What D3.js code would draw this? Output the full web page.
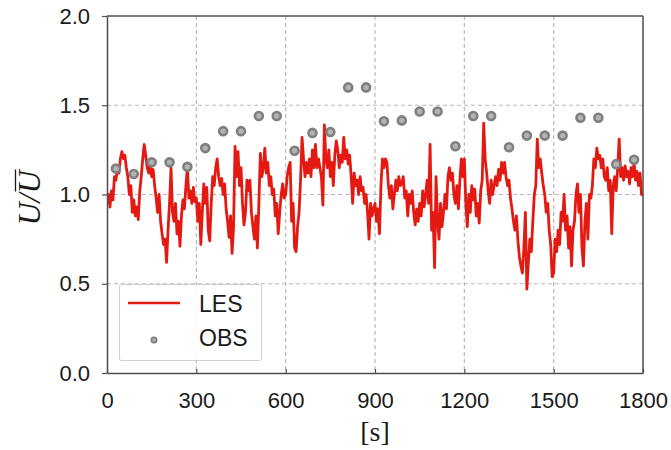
<!DOCTYPE html>
<html>
<head>
<meta charset="utf-8">
<script src="https://cdn.jsdelivr.net/npm/d3@7"></script>
<style>
  html, body { margin: 0; padding: 0; background: #fff; }
  svg { display: block; }
</style>
</head>
<body>
<svg id="chart" width="671" height="450"></svg>
<script>
// ---- data ----
const xTicks = [0, 300, 600, 900, 1200, 1500, 1800];
const yTicks = [0.0, 0.5, 1.0, 1.5, 2.0];
const lesStart = 0;   // s
const lesStep = 5;    // s
const lesValues = [
  0.95,1.0,0.93,1.02,0.97,1.1,1.08,1.15,1.12,1.2,
  1.24,1.2,1.22,1.15,1.1,1.0,1.05,0.9,0.97,0.88,
  0.93,0.86,1.02,1.1,1.2,1.28,1.22,1.15,1.12,1.18,
  1.1,1.14,1.05,0.98,0.9,1.0,0.85,0.78,0.72,0.75,
  0.62,0.8,0.95,1.15,0.9,0.85,0.95,0.78,0.85,0.71,
  0.88,0.97,0.92,1.05,1.15,0.98,1.02,0.95,1.04,0.96,
  0.98,0.85,0.95,0.72,0.9,1.06,0.95,1.04,0.8,0.74,
  0.95,1.1,1.05,1.15,1.2,1.1,1.05,1.09,1.0,1.06,
  0.92,0.85,0.76,0.88,0.67,0.82,1.27,1.1,1.24,1.05,
  1.15,0.95,0.83,0.9,1.08,1.02,1.08,0.9,0.82,0.75,
  0.88,0.7,0.95,1.23,1.1,1.15,1.26,1.12,1.18,1.05,
  1.1,1.0,1.03,0.88,0.95,0.78,0.9,1.0,1.06,0.98,
  1.0,1.1,1.15,1.18,0.85,0.95,0.7,0.68,0.82,0.9,
  1.08,1.32,1.2,1.1,1.18,1.12,1.2,1.1,1.25,1.15,
  1.28,1.15,1.2,1.15,1.1,0.94,1.39,1.2,1.15,1.25,
  1.1,1.18,1.05,1.22,1.3,1.25,1.15,1.22,1.18,1.32,
  1.2,1.25,1.17,1.22,1.1,0.95,1.12,1.05,1.08,1.0,
  1.1,1.02,1.04,0.95,1.0,0.9,0.75,0.95,0.88,0.92,
  0.95,0.85,0.92,0.78,1.05,1.2,1.15,1.2,1.18,1.05,
  0.98,1.05,0.92,1.0,1.08,1.02,1.1,1.05,1.06,1.1,
  0.98,1.02,0.88,1.0,0.95,1.02,0.9,0.83,0.92,0.85,
  0.95,0.88,1.02,0.93,1.0,1.08,0.95,1.28,0.8,0.9,
  0.59,1.1,0.85,0.75,0.95,0.82,0.9,1.0,0.92,1.1,
  1.15,1.08,1.12,1.0,0.95,1.05,0.92,1.08,1.2,1.1,
  1.2,0.95,0.82,1.0,0.9,1.05,0.97,1.03,0.88,0.95,
  0.84,1.02,1.08,1.4,1.2,1.12,1.02,0.95,1.08,1.0,
  1.05,1.1,1.05,1.14,1.08,1.18,1.12,1.18,1.1,1.05,
  1.08,0.98,0.92,0.85,0.8,0.88,0.74,0.65,0.6,0.56,
  0.7,0.9,0.47,0.62,0.75,0.68,0.85,1.0,1.05,1.31,
  1.15,1.2,1.12,1.05,1.0,0.9,0.95,0.8,0.72,0.54,
  0.56,0.75,0.68,0.8,0.72,0.9,0.85,1.0,0.8,0.88,
  0.7,0.82,0.6,0.8,0.85,1.0,1.06,0.9,1.0,0.7,
  0.6,0.85,0.95,0.75,1.0,0.98,1.05,1.2,1.15,1.26,
  1.2,1.22,1.15,1.2,1.1,1.08,1.15,1.02,1.08,0.78,
  1.05,1.1,1.02,1.15,1.31,1.1,1.15,1.08,1.16,1.1,
  1.13,1.06,1.15,1.1,1.18,1.08,1.13,1.05,1.12,1.0,
  1.0
];
const obsTime = [30,90,150,210,270,330,390,450,510,570,630,690,750,810,870,
                 930,990,1050,1110,1170,1230,1290,1350,1410,1470,1530,1590,1650,1710,1770];
const obsValues = [1.145,1.115,1.18,1.18,1.155,1.26,1.355,1.355,1.44,1.44,
                   1.245,1.345,1.35,1.6,1.6,1.41,1.415,1.465,1.465,1.27,
                   1.44,1.44,1.265,1.33,1.33,1.33,1.43,1.43,1.17,1.195];
const seriesNames = ["LES", "OBS"];

// ---- layout ----
const svg = d3.select("#chart");
const L = 107, R = 643, T = 16, B = 373;
const x = d3.scaleLinear().domain([0, 1800]).range([L, R]);
const y = d3.scaleLinear().domain([0, 2]).range([B, T]);
const axisColor = "#4d4d4d";
const gridColor = "#b8b8b8";
const tickFont = "'Liberation Sans', Arial, sans-serif";

svg.append("defs").append("clipPath").attr("id", "clip")
  .append("rect").attr("x", L).attr("y", T).attr("width", R - L).attr("height", B - T);

// grid
const grid = svg.append("g");
grid.selectAll("line.gx").data(xTicks.filter(d => d > 0 && d < 1800)).join("line")
  .attr("x1", d => x(d)).attr("x2", d => x(d)).attr("y1", T).attr("y2", B)
  .attr("stroke", gridColor).attr("stroke-width", 1.2).attr("stroke-dasharray", "4,3");
grid.selectAll("line.gy").data(yTicks.filter(d => d > 0 && d < 2)).join("line")
  .attr("x1", L).attr("x2", R).attr("y1", d => y(d)).attr("y2", d => y(d))
  .attr("stroke", gridColor).attr("stroke-width", 1.2).attr("stroke-dasharray", "4,3");

// LES line
const lesData = lesValues.map((v, i) => ({ t: lesStart + i * lesStep, v }));
svg.append("path").datum(lesData)
  .attr("clip-path", "url(#clip)")
  .attr("fill", "none").attr("stroke", "#e41a12").attr("stroke-width", 2.8)
  .attr("stroke-linejoin", "round")
  .attr("d", d3.line().x(d => x(d.t)).y(d => y(d.v)));

// OBS points
svg.append("g").selectAll("circle").data(obsTime.map((t, i) => ({ t, v: obsValues[i] }))).join("circle")
  .attr("cx", d => x(d.t)).attr("cy", d => y(d.v)).attr("r", 4)
  .attr("fill", "#b3b3b3").attr("stroke", "#7f7f7f").attr("stroke-width", 2.6);

// axes
const xAxis = d3.axisBottom(x).tickValues(xTicks).tickSizeInner(-4).tickSizeOuter(0).tickPadding(19)
  .tickFormat(d3.format("d"));
const gx = svg.append("g").attr("transform", `translate(0,${B})`).call(xAxis);
gx.select(".domain").attr("stroke", axisColor).attr("stroke-width", 1.5);
gx.selectAll(".tick line").attr("stroke", axisColor).attr("stroke-width", 1.2);
gx.selectAll(".tick text").attr("font-family", tickFont).attr("font-size", 22).attr("fill", "#1a1a1a");

const yAxis = d3.axisLeft(y).tickValues(yTicks).tickSizeInner(5).tickSizeOuter(0).tickPadding(12)
  .tickFormat(d3.format(".1f"));
const gy = svg.append("g").attr("transform", `translate(${L},0)`).call(yAxis);
gy.select(".domain").attr("stroke", axisColor).attr("stroke-width", 1.5);
gy.selectAll(".tick line").attr("stroke", axisColor).attr("stroke-width", 1.2);
gy.selectAll(".tick text").attr("font-family", tickFont).attr("font-size", 22).attr("fill", "#1a1a1a");

// top & right frame
svg.append("line").attr("x1", L).attr("x2", R).attr("y1", T).attr("y2", T)
  .attr("stroke", axisColor).attr("stroke-width", 1.5);
svg.append("line").attr("x1", R).attr("x2", R).attr("y1", T).attr("y2", B)
  .attr("stroke", axisColor).attr("stroke-width", 1.5);

// axis titles
svg.append("text").attr("x", (L + R) / 2).attr("y", 441).attr("text-anchor", "middle")
  .attr("font-family", "'Liberation Serif', 'Times New Roman', serif").attr("font-size", 28)
  .attr("fill", "#1a1a1a").text("[s]");

const ylab = svg.append("g").attr("transform", "translate(40,198) rotate(-90)");
const ytxt = ylab.append("text").attr("x", 0).attr("y", 0).attr("text-anchor", "middle")
  .attr("font-family", "'Liberation Serif', 'Times New Roman', serif").attr("font-style", "italic")
  .attr("font-size", 32).attr("fill", "#1a1a1a").text("U/U");
const ext = ytxt.node().getExtentOfChar(2);
ylab.append("line").attr("x1", ext.x + 2).attr("x2", ext.x + ext.width + 1)
  .attr("y1", -24.5).attr("y2", -24.5).attr("stroke", "#1a1a1a").attr("stroke-width", 1.3);

// legend
const lg = svg.append("g");
lg.append("rect").attr("x", 119.5).attr("y", 284.5).attr("width", 142).attr("height", 76).attr("rx", 2)
  .attr("fill", "#fff").attr("fill-opacity", 0.9).attr("stroke", "#cfcfcf").attr("stroke-width", 1);
lg.append("line").attr("x1", 128).attr("x2", 180).attr("y1", 303).attr("y2", 303)
  .attr("stroke", "#e41a12").attr("stroke-width", 2.6);
lg.append("circle").attr("cx", 154).attr("cy", 340).attr("r", 2.6)
  .attr("fill", "#b3b3b3").attr("stroke", "#7f7f7f").attr("stroke-width", 1.8);
lg.selectAll("text").data(seriesNames).join("text")
  .attr("x", 199).attr("y", (d, i) => 312 + i * 34)
  .attr("font-family", tickFont).attr("font-size", 23).attr("fill", "#1a1a1a").text(d => d);
</script>
</body>
</html>
